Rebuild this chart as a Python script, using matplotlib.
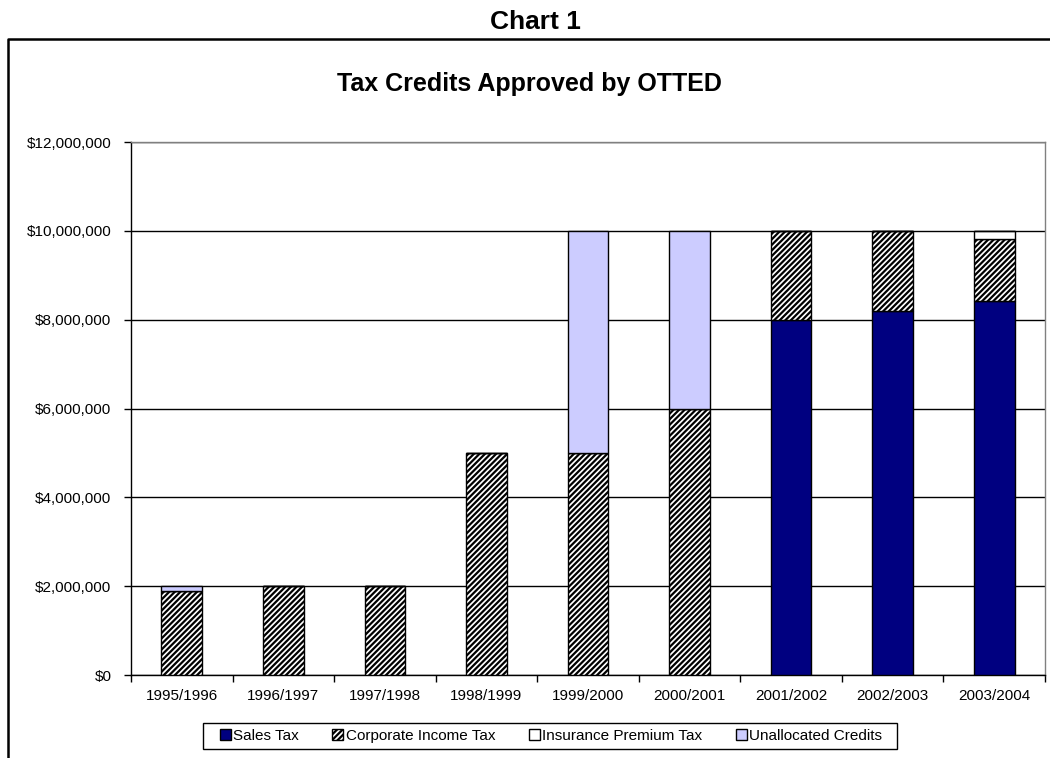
import matplotlib
matplotlib.use("Agg")
import matplotlib.pyplot as plt
from matplotlib.lines import Line2D
from matplotlib.patches import Rectangle
import numpy as np

plt.rcParams['font.family'] = ['Liberation Sans', 'DejaVu Sans']
plt.rcParams['hatch.linewidth'] = 1.6

years = ["1995/1996", "1996/1997", "1997/1998", "1998/1999", "1999/2000",
         "2000/2001", "2001/2002", "2002/2003", "2003/2004"]
sales_tax = [0, 0, 0, 0, 0, 0, 8000000, 8200000, 8430000]
corporate_income_tax = [1900000, 2000000, 2000000, 5000000, 5000000, 6000000, 2000000, 1800000, 1390000]
insurance_premium_tax = [0, 0, 0, 0, 0, 0, 0, 0, 180000]
unallocated_credits = [100000, 0, 0, 0, 5000000, 4000000, 0, 0, 0]
yticks = [0, 2000000, 4000000, 6000000, 8000000, 10000000, 12000000]

fig = plt.figure(figsize=(10.5, 7.58), dpi=100)
ax = fig.add_axes([131/1050, 1-675/758, (1045-131)/1050, (675-142)/758])

x = np.arange(len(years))
w = 0.4
s = np.array(sales_tax, float)
c = np.array(corporate_income_tax, float)
i = np.array(insurance_premium_tax, float)
u = np.array(unallocated_credits, float)

ax.bar(x, s, w, color='#000080', edgecolor='black', linewidth=1.0, label='Sales Tax', zorder=3)
ax.bar(x, c, w, bottom=s, color='white', edgecolor='black', hatch='//////', linewidth=1.0,
       label='Corporate Income Tax', zorder=3)
ax.bar(x, i, w, bottom=s + c, color='white', edgecolor='black', linewidth=1.0,
       label='Insurance Premium Tax', zorder=3)
ax.bar(x, u, w, bottom=s + c + i, color='#CCCCFF', edgecolor='black', linewidth=1.0,
       label='Unallocated Credits', zorder=3)

ax.set_xlim(-0.5, len(years) - 0.5)
ax.set_ylim(0, 12000000)
ax.set_yticks(yticks)
ax.set_yticklabels(['${:,.0f}'.format(v) for v in yticks], fontsize=11)
ax.set_xticks(x)
ax.set_xticklabels(years, fontsize=11)
ax.tick_params(axis='x', length=0, pad=10)
ax.set_xticks(np.arange(len(years) + 1) - 0.5, minor=True)
ax.tick_params(axis='x', which='minor', length=5, width=1, direction='out')
ax.tick_params(axis='y', length=5, width=1, direction='out', pad=9)
ax.grid(axis='y', color='black', linewidth=1.0, zorder=0)
for sp in ['top', 'right']:
    ax.spines[sp].set_color('#808080')
for sp in ['left', 'bottom']:
    ax.spines[sp].set_color('black')
for sp in ax.spines.values():
    sp.set_linewidth(1.0)

fig.text(535/1050, 1-22/758, 'Chart 1', ha='center', va='center', fontsize=19, fontweight='bold')
fig.text(529/1050, 1-84/758, 'Tax Credits Approved by OTTED', ha='center', va='center',
         fontsize=18, fontweight='bold')

leg = fig.legend(loc='center', bbox_to_anchor=(551/1050, 1-736/758), ncol=4, fontsize=11,
                 frameon=False, handlelength=0.72,
                 handleheight=0.72, handletextpad=0.15, columnspacing=2.2,
                 borderpad=0.35, borderaxespad=0)

# legend frame box
fig.add_artist(Rectangle((203/1050, 1-749/758), (897-203)/1050, 26/758,
                         transform=fig.transFigure, facecolor='none', edgecolor='black',
                         linewidth=1.0))

fig.add_artist(Line2D([8/1050, 8/1050, 1.0], [0.0, 1-39/758, 1-39/758],
                      transform=fig.transFigure, color='black', linewidth=1.8))

fig.savefig('out.png', dpi=100)
